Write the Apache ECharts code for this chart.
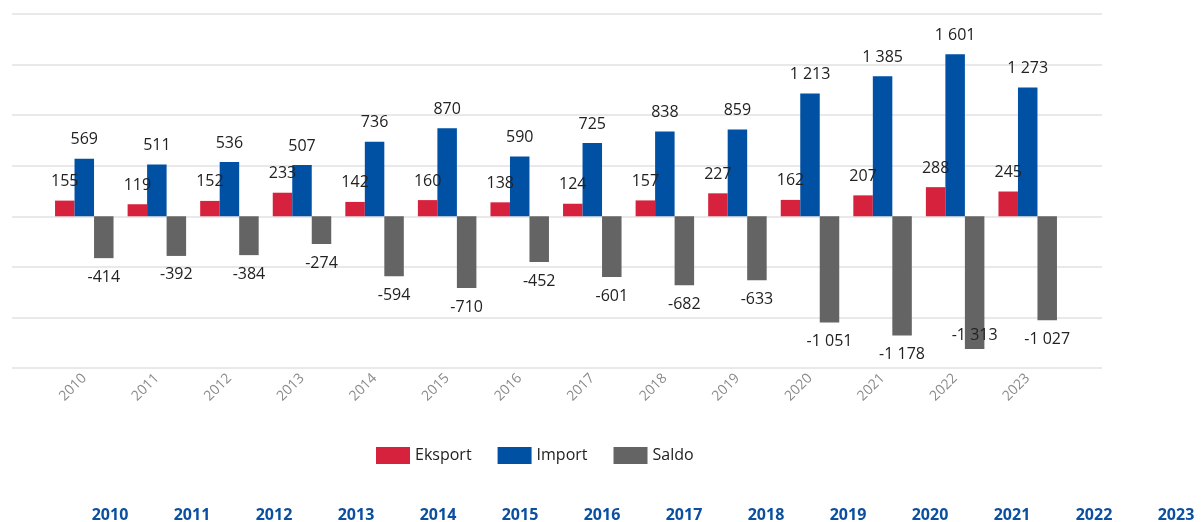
<!DOCTYPE html>
<html>
<head>
<meta charset="utf-8">
<script src="https://cdn.jsdelivr.net/npm/echarts@6/dist/echarts.min.js"></script>
<style>
  html, body { margin: 0; padding: 0; background: #fff; }
  #chart { width: 1202px; height: 522px; }
</style>
</head>
<body>
<div id="chart"></div>
<script>
const years = ['2010', '2011', '2012', '2013', '2014', '2015', '2016', '2017', '2018', '2019', '2020', '2021', '2022', '2023']
const eksport = [155, 119, 152, 233, 142, 160, 138, 124, 157, 227, 162, 207, 288, 245]
const importVals = [569, 511, 536, 507, 736, 870, 590, 725, 838, 859, 1213, 1385, 1601, 1273]
const saldo = [-414, -392, -384, -274, -594, -710, -452, -601, -682, -633, -1051, -1178, -1313, -1027]

const fmt = v => {
  const n = Math.abs(v).toString().replace(/\B(?=(\d{3})+(?!\d))/g, ' ')
  return (v < 0 ? '-' : '') + n
}

const chart = echarts.init(document.getElementById('chart'))

const labelStyle = {
  show: true,
  fontSize: 16,
  color: '#222',
  fontFamily: 'Open Sans',
  distance: 11,
  formatter: p => fmt(p.value)
}

const barBase = {
  type: 'bar',
  barWidth: 19.5,
  barGap: '0%',
  animation: false,
  xAxisIndex: 0,
  yAxisIndex: 0
}

const options = {
  textStyle: { fontFamily: 'Open Sans' },
  legend: {
    bottom: 53,
    left: 371,
    itemWidth: 34,
    itemHeight: 17,
    itemGap: 26,
    icon: 'rect',
    textStyle: { fontSize: 16, color: '#222' },
    data: ['Eksport', 'Import', 'Saldo']
  },
  grid: [
    { left: 48, right: 138, top: 14, bottom: 154 },
    { left: 12, right: 100, top: 14, bottom: 154 },
    { left: 110, right: 26, top: 498, height: 1 }
  ],
  xAxis: [
    {
      gridIndex: 0,
      type: 'category',
      data: years,
      axisLine: { show: false },
      axisTick: { show: false },
      axisLabel: { rotate: 45, color: '#8a8a8a', fontSize: 14, margin: 8 }
    },
    {
      gridIndex: 1,
      type: 'value',
      show: false
    },
    {
      gridIndex: 2,
      type: 'category',
      data: years,
      boundaryGap: false,
      axisLine: { show: false },
      axisTick: { show: false },
      axisLabel: { color: '#0a4fa0', fontSize: 16, fontWeight: 'bold', margin: 9 }
    }
  ],
  yAxis: [
    {
      gridIndex: 0,
      type: 'value',
      min: -1500,
      max: 2000,
      interval: 500,
      show: false,
      splitLine: { show: false }
    },
    {
      gridIndex: 1,
      type: 'value',
      min: -1500,
      max: 2000,
      interval: 500,
      axisLine: { show: false },
      axisTick: { show: false },
      axisLabel: { show: false },
      splitLine: { lineStyle: { color: '#e2e2e2', width: 1.5 } }
    },
    {
      gridIndex: 2,
      type: 'value',
      show: false
    }
  ],
  series: [
    {
      ...barBase,
      name: 'Eksport',
      data: eksport,
      itemStyle: { color: '#d7223e' },
      label: { ...labelStyle, position: 'top' }
    },
    {
      ...barBase,
      name: 'Import',
      data: importVals,
      itemStyle: { color: '#0050a4' },
      label: { ...labelStyle, position: 'top' }
    },
    {
      ...barBase,
      name: 'Saldo',
      // the 2022 label would fall below the plot, so it sits inside the bar
      data: saldo.map((v, i) => i === 12 ? { value: v, label: { position: 'insideBottom', distance: 6 } } : v),
      itemStyle: { color: '#646464' },
      label: { ...labelStyle, position: 'bottom' }
    }
  ]
}

options && chart.setOption(options)
</script>
</body>
</html>
